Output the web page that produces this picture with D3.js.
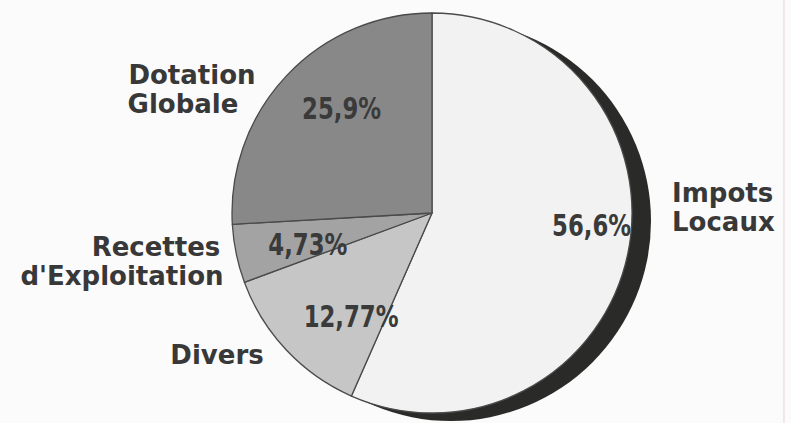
<!DOCTYPE html>
<html>
<head>
<meta charset="utf-8">
<script src="https://cdn.jsdelivr.net/npm/d3@7"></script>
<style>
  html, body { margin: 0; padding: 0; background: #fbfbfb; }
  svg { display: block; }
  .cat-label { font-family: "DejaVu Sans", sans-serif; font-weight: bold; font-size: 26px; fill: #383838; }
  .pct-label { font-family: "DejaVu Sans", sans-serif; font-weight: bold; font-size: 30px; fill: #3a3a3a; }
</style>
</head>
<body>
<svg id="chart" width="791" height="423"></svg>
<script>
// slices clockwise from 12 o'clock
const categories = ["Impots Locaux", "Divers", "Recettes d'Exploitation", "Dotation Globale"];
const values = [56.6, 12.77, 4.73, 25.9];
const valueLabels = ["56,6%", "12,77%", "4,73%", "25,9%"];
const labelLines = [["Impots", "Locaux"], ["Divers"], ["Recettes", "d'Exploitation"], ["Dotation", "Globale"]];

const SLICE_COLORS = ["#f2f2f2", "#c6c6c6", "#a3a3a3", "#888888"];

const width = 791;
const height = 423;
const cx = 432;
const cy = 213;
const radius = 200;

const svg = d3.select("#chart");

svg.append("rect").attr("width", width).attr("height", height).attr("fill", "#fbfbfb");
svg.append("line")
  .attr("x1", 784).attr("x2", 784).attr("y1", 0).attr("y2", height)
  .attr("stroke", "#f1e6ec").attr("stroke-width", 2);

const slices = categories.map((name, i) => ({ name, value: values[i], pct: valueLabels[i], lines: labelLines[i] }));

const pie = d3.pie().sort(null).value((d) => d.value).startAngle(0).endAngle(2 * Math.PI);
const arcs = pie(slices);
const arc = d3.arc().innerRadius(0).outerRadius(radius);

const chart = svg.append("g").attr("transform", `translate(${cx},${cy})`);

// dark offset disc that shows as a crescent on the right
chart.append("circle")
  .attr("cx", 19)
  .attr("cy", 8)
  .attr("r", radius)
  .attr("fill", "#2a2a28");

chart.selectAll("path.slice")
  .data(arcs)
  .join("path")
  .attr("class", "slice")
  .attr("d", arc)
  .attr("fill", (d, i) => SLICE_COLORS[i])
  .attr("stroke", "#4a4a4a")
  .attr("stroke-width", 1.3)
  .attr("stroke-linejoin", "round");

// percentage labels: polar position with small angle/radius tweaks, squeezed horizontally
const pctPlacement = [
  { da: -7.6, r: 160 },
  { da: -8.6, r: 131 },
  { da: -2.3, r: 128 },
  { da: 5.7, r: 138 }
];

chart.selectAll("text.pct-label")
  .data(arcs)
  .join("text")
  .attr("class", "pct-label")
  .attr("text-anchor", "middle")
  .attr("dominant-baseline", "central")
  .attr("transform", (d, i) => {
    const a = (d.startAngle + d.endAngle) / 2 + (pctPlacement[i].da * Math.PI) / 180;
    const r = pctPlacement[i].r;
    return `translate(${r * Math.sin(a)},${-r * Math.cos(a)}) scale(0.76,1)`;
  })
  .text((d) => d.data.pct);

// category labels outside the pie, one text per category, one tspan per line
const catPlacement = [
  { anchor: "start", lines: [[672, 202], [672, 231]] },
  { anchor: "middle", lines: [[217, 364]] },
  { anchor: "middle", lines: [[156, 256], [122, 285]] },
  { anchor: "middle", lines: [[192, 84], [183, 113]] }
];

svg.selectAll("text.cat-label")
  .data(slices)
  .join("text")
  .attr("class", "cat-label")
  .attr("text-anchor", (d, i) => catPlacement[i].anchor)
  .each(function (slice, i) {
    d3.select(this)
      .selectAll("tspan")
      .data(slice.lines)
      .join("tspan")
      .attr("x", (line, j) => catPlacement[i].lines[j][0])
      .attr("y", (line, j) => catPlacement[i].lines[j][1])
      .text((line) => line);
  });
</script>
</body>
</html>
